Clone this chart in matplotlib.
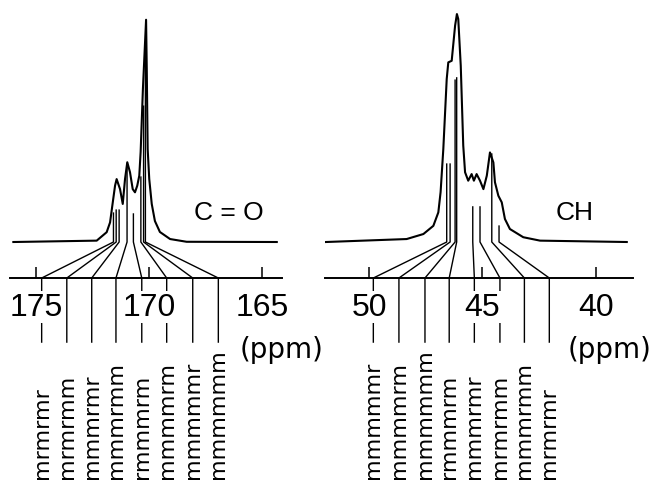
import matplotlib
matplotlib.use("Agg")
import matplotlib.pyplot as plt
from matplotlib import font_manager

# C=O carbonyl region: chemical shift (ppm) and relative intensity
co_ppm = [176.00, 172.32, 171.88, 171.73, 171.59, 171.51, 171.44, 171.29, 171.17,
          171.07, 170.97, 170.85, 170.73, 170.63, 170.53, 170.44, 170.38, 170.28,
          170.14, 170.11, 170.07, 170.00, 169.89, 169.75, 169.53, 169.08, 168.35, 164.37]
co_int = [0.0, 0.006, 0.043, 0.086, 0.189, 0.247, 0.276, 0.232, 0.167,
          0.276, 0.350, 0.306, 0.232, 0.218, 0.247, 0.291, 0.395, 0.671,
          0.975, 0.759, 0.408, 0.276, 0.167, 0.092, 0.044, 0.013, 0.001, 0.0]

# CH methine region
ch_ppm = [51.91, 48.35, 47.61, 47.17, 46.95, 46.85, 46.73, 46.58, 46.51, 46.36,
          46.21, 46.13, 46.07, 45.96, 45.85, 45.77, 45.63, 45.48, 45.38, 45.26,
          45.11, 44.96, 44.81, 44.67, 44.52, 44.45, 44.30, 44.15, 44.01, 43.79,
          43.20, 42.46, 38.63]
ch_int = [0.0, 0.013, 0.035, 0.071, 0.130, 0.219, 0.408, 0.715, 0.788, 0.795,
          0.949, 1.0, 0.978, 0.773, 0.423, 0.306, 0.269, 0.298, 0.269, 0.298,
          0.269, 0.232, 0.291, 0.393, 0.349, 0.262, 0.203, 0.174, 0.101, 0.057,
          0.021, 0.006, 0.0]

# heptad assignments: where each line starts in the peak and where it lands on the axis
co_seq = ["mrmrmr", "mrmrmm", "mmmrmr", "mmmrmm", "rmmmrm", "mmmmrm", "mmmmmr", "mmmmmm"]
co_peak_ppm = [171.58, 171.46, 171.33, 170.98, 170.70, 170.37, 170.25, 170.17]
co_peak_top = [0.127, 0.140, 0.140, 0.342, 0.123, 0.285, 0.596, 0.86]
co_axis_ppm = [174.75, 173.64, 172.54, 171.47, 170.33, 169.23, 168.08, 166.95]
co_ticks = [175, 170, 165]

ch_seq = ["mmmmmr", "mmmmrm", "mmmmmm", "rmmmrm", "mmmrmr", "mrmrmm", "mmmrmm", "mrmrmr"]
ch_peak_ppm = [46.58, 46.43, 46.21, 46.14, 45.43, 45.11, 44.59, 44.27]
ch_peak_top = [0.342, 0.342, 0.71, 0.72, 0.154, 0.154, 0.386, 0.070]
ch_axis_ppm = [49.82, 48.69, 47.54, 46.47, 45.36, 44.23, 43.15, 42.05]
ch_ticks = [50, 45, 40]

AXIS_Y = -0.158
LINE_BOT = -0.439
LABEL_Y = -1.035
YLIM = (-1.044, 1.066)

names = {f.name for f in font_manager.fontManager.ttflist}
NARROW = "Liberation Sans Narrow" if "Liberation Sans Narrow" in names else "Liberation Sans"
TICK_SIZE = 26 if NARROW.endswith("Narrow") else 23


def panel(ax, ppm, inten, seqs, top_ppm, top, axis_ppm, ticks, xlim, name, name_x, ppm_x):
    ax.set_xlim(*xlim)
    ax.set_ylim(*YLIM)
    ax.patch.set_alpha(0)
    for s in ("left", "right", "top"):
        ax.spines[s].set_visible(False)
    ax.spines["bottom"].set_position(("data", AXIS_Y))
    ax.spines["bottom"].set_linewidth(1.4)
    ax.set_yticks([])
    ax.set_axisbelow(False)
    ax.set_xticks(ticks, labels=[str(t) for t in ticks], fontfamily=NARROW,
                  fontsize=TICK_SIZE)
    ax.tick_params(axis="x", direction="in", length=8, width=1.1, pad=10)
    for lab in ax.get_xticklabels():
        lab.set_bbox(dict(facecolor="white", edgecolor="none", pad=1))

    ax.plot(ppm, inten, color="black", lw=1.5, solid_joinstyle="round")
    for s, p, t, a in zip(seqs, top_ppm, top, axis_ppm):
        ax.plot([p, p, a, a], [t, 0, AXIS_Y, LINE_BOT], color="black", lw=1.0)
        ax.text(a, LABEL_Y, s, rotation=90, ha="center", va="bottom",
                fontsize=16, family="DejaVu Sans")
    ax.text(name_x, 0.13, name, ha="center", va="center", fontsize=19, family=NARROW)
    ax.text(ppm_x, -0.469, "(ppm)", ha="center", va="center", fontsize=20,
            family="DejaVu Sans")


fig = plt.figure(figsize=(6.55, 4.81), dpi=100)
ax1 = fig.add_axes([10 / 655, 0, 272 / 655, 1])
ax2 = fig.add_axes([325 / 655, 0, 308 / 655, 1])
panel(ax1, co_ppm, co_int, co_seq, co_peak_ppm, co_peak_top, co_axis_ppm, co_ticks,
      (176.148, 164.139), "C = O", 166.48, 164.18)
panel(ax2, ch_ppm, ch_int, ch_seq, ch_peak_ppm, ch_peak_top, ch_axis_ppm, ch_ticks,
      (51.954, 38.355), "CH", 40.92, 39.37)
fig.savefig("out.png", dpi=100)
